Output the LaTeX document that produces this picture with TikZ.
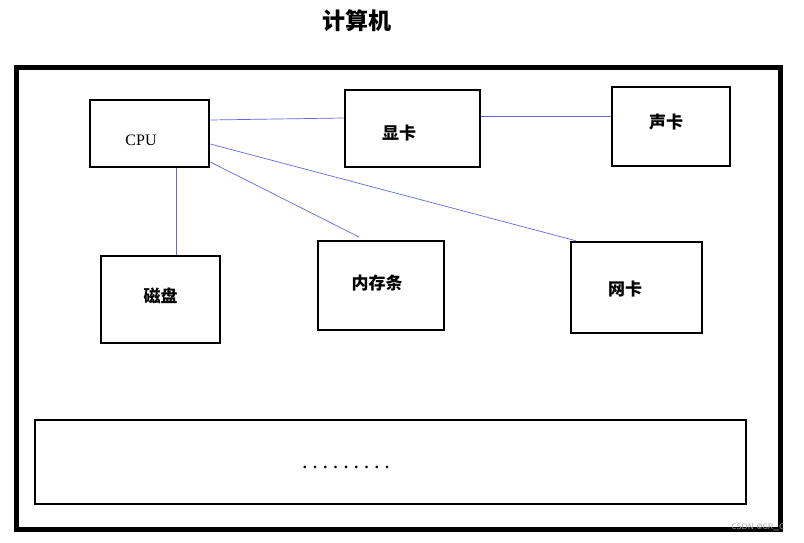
\documentclass[tikz,border=0pt]{standalone}
\usepackage{fontspec}
\setmainfont{Liberation Serif}
\newfontfamily\cjk{Noto Sans CJK SC}
\usetikzlibrary{calc}
\definecolor{linkblue}{RGB}{95,105,225}
\tikzset{
    part/.style={draw=black,line width=2.6pt,rectangle,inner sep=0pt},
    partname/.style={font=\cjk\bfseries\fontsize{17}{20}\selectfont,inner sep=0pt},
    link/.style={draw=linkblue,line width=0.7pt}
}
\begin{document}
\begin{tikzpicture}[x=1pt,y=1pt]
    \useasboundingbox (0,0) rectangle (804,542);
    % title and frame
    \node[font=\cjk\bfseries\fontsize{23}{26}\selectfont] (title) at (357,521) {计算机};
    \draw[line width=5pt] (16,474) rectangle (780,13);
    % parts
    \node[part,minimum width=119pt,minimum height=67pt] (cpu) at (149.5,408.5) {};
    \node[part,minimum width=135pt,minimum height=77pt] (gpu) at (412.5,413.5) {};
    \node[part,minimum width=118pt,minimum height=79pt] (sound) at (671,415.5) {};
    \node[part,minimum width=119pt,minimum height=87pt] (disk) at (160.5,242.5) {};
    \node[part,minimum width=126pt,minimum height=89pt] (ram) at (381,256.5) {};
    \node[part,minimum width=131pt,minimum height=91pt] (net) at (636.5,254.5) {};
    \node[part,minimum width=711pt,minimum height=84pt] (rest) at (390.5,80) {};
    % names
    \node[partname,font=\rmfamily\fontsize{16}{18}\selectfont] (cputext) at ($(cpu)+(-8.5,-6.5)$) {CPU};
    \node[partname] (gputext) at ($(gpu)+(-13.5,-4.5)$) {显卡};
    \node[partname] (soundtext) at ($(sound)+(-5,4.5)$) {声卡};
    \node[partname] (disktext) at ($(disk)+(0,3.5)$) {磁盘};
    \node[partname] (ramtext) at ($(ram)+(-4,2.5)$) {内存条};
    \node[partname] (nettext) at ($(net)+(-11.5,-1.5)$) {网卡};
    \node[partname,font=\rmfamily\bfseries\fontsize{16}{18}\selectfont] (resttext) at ($(rest)+(-44.5,-5)$)
        {.\hspace{6.3pt}.\hspace{6.3pt}.\hspace{6.3pt}.\hspace{6.3pt}.\hspace{6.3pt}.\hspace{6.3pt}.\hspace{6.3pt}.\hspace{6.3pt}.};
    % links
    \coordinate (ramend) at (359,305);
    \draw[link] ([yshift=13.5pt]cpu.east) -- ([yshift=10.5pt]gpu.west);
    \draw[link] ([yshift=12.5pt]gpu.east) -- ([yshift=10.5pt]sound.west);
    \draw[link] ([xshift=26.5pt]cpu.south) -- ([xshift=26.5pt]cpu.south |- disk.north);
    \draw[link] ([yshift=-28.5pt]cpu.east) -- (ramend);
    \draw[link] ([yshift=-10.5pt]cpu.east) -- ([xshift=6pt]net.north west);
    % watermark
    \node[text=black!35,font=\sffamily\fontsize{8}{9}\selectfont] (mark) at (758,15) {CSDN @GR\_C};
\end{tikzpicture}
\end{document}
